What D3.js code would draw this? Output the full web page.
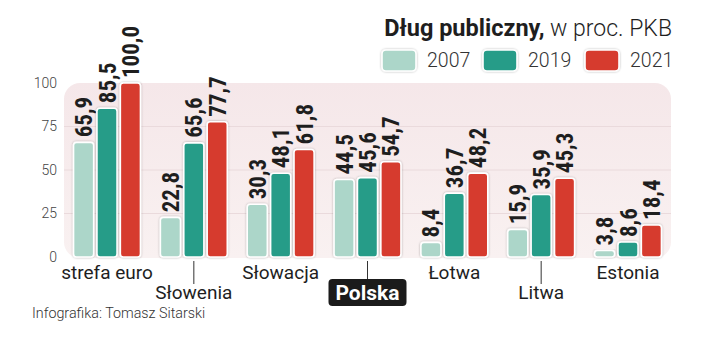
<!DOCTYPE html>
<html><head><meta charset="utf-8">
<script src="https://cdn.jsdelivr.net/npm/d3@7"></script>
<style>
body{margin:0;background:#fff;}
svg{display:block;}
</style></head>
<body><svg id="c" width="720" height="346"></svg>
<script>
const categories = ["strefa euro","Słowenia","Słowacja","Polska","Łotwa","Litwa","Estonia"];
const years = ["2007","2019","2021"];
const v2007 = [65.9,22.8,30.3,44.5,8.4,15.9,3.8];
const v2019 = [85.5,65.6,48.1,45.6,36.7,35.9,8.6];
const v2021 = [100.0,77.7,61.8,54.7,48.2,45.3,18.4];
const yTicks = [0,25,50,75,100];
const colors = ["#acd6c9","#279c88","#d63b2e"];
const title = "Dług publiczny,";
const subtitle = " w proc. PKB";
const credit = "Infografika: Tomasz Sitarski";
const highlight = "Polska";

const series = [v2007,v2019,v2021];
const svg = d3.select("#c");
const y = d3.scaleLinear().domain([0,100]).range([257,83]);
const x = d3.scalePoint().domain(categories).range([107,628]);
const xi = d3.scaleBand().domain(years).range([-35.1,35.1]).paddingInner(0.14).paddingOuter(0.07);

const defs = svg.append("defs");
const g = defs.append("linearGradient").attr("id","bg").attr("x1",0).attr("y1",0).attr("x2",0).attr("y2",1);
g.append("stop").attr("offset","0%").attr("stop-color","#f5e7e9");
g.append("stop").attr("offset","100%").attr("stop-color","#f9f1f1");
const sh = defs.append("filter").attr("id","sh").attr("x","-20%").attr("y","-20%").attr("width","140%").attr("height","140%");
sh.append("feDropShadow").attr("dx",0).attr("dy",0).attr("stdDeviation",0.8).attr("flood-color","#000").attr("flood-opacity",0.3);

// background panel
svg.append("rect").attr("x",64).attr("y",y(100)).attr("width",607).attr("height",y(0)-y(100)+1)
  .attr("rx",16).attr("fill","url(#bg)");

// grid
svg.append("g").selectAll("line").data(yTicks.filter(d=>d>0&&d<100)).join("line")
  .attr("x1",64).attr("x2",671).attr("y1",d=>y(d)).attr("y2",d=>y(d))
  .attr("stroke","#eadadc").attr("stroke-width",1);

// y axis labels
const yAxis = d3.axisLeft(y).tickValues(yTicks).tickSize(0).tickPadding(0).tickFormat(d3.format("d"));
const ya = svg.append("g").attr("transform","translate(57,0)").call(yAxis);
ya.select(".domain").remove();
ya.selectAll("text").attr("font-family","Roboto, sans-serif").attr("font-weight",300)
  .attr("font-size",14).attr("fill","#444");

// bars
const groups = svg.append("g").selectAll("g").data(categories).join("g")
  .attr("transform",d=>`translate(${x(d)},0)`);
groups.each(function(cat,ci){
  const gg = d3.select(this);
  years.forEach((yr,si)=>{
    const val = series[si][ci];
    gg.append("rect").attr("x",xi(yr)).attr("width",xi.bandwidth())
      .attr("y",y(val)).attr("height",Math.max(0,y(0)-y(val)))
      .attr("rx",3).attr("fill",colors[si]).attr("stroke","#fff").attr("stroke-width",1.6)
      .attr("filter","url(#sh)");
    gg.append("text")
      .attr("transform",`translate(${xi(yr)+xi.bandwidth()/2+8.5},${y(val)-5}) rotate(-90)`)
      .attr("font-family","'Liberation Sans Narrow','Roboto Condensed','DejaVu Sans Condensed',sans-serif")
      .attr("font-weight",700).attr("font-size",23).attr("fill","#1e1e1e")
      .text(d3.format(".1f")(val).replace(".",","));
  });
});

// x labels
const lab = svg.append("g").selectAll("g").data(categories).join("g")
  .attr("transform",d=>`translate(${x(d)},0)`);
lab.each(function(cat,i){
  const gg = d3.select(this);
  if(i%2===0){
    gg.append("text").attr("y",279).attr("text-anchor","middle")
      .attr("font-family","Roboto, sans-serif").attr("font-weight",400).attr("font-size",19)
      .attr("fill","#1e1e1e").text(cat);
  } else {
    const isH = cat===highlight;
    gg.append("line").attr("x1",0).attr("x2",0).attr("y1",261).attr("y2",isH?279:284)
      .attr("stroke","#333").attr("stroke-width",1);
    if(isH){
      gg.append("rect").attr("x",-39).attr("y",279).attr("width",78).attr("height",27)
        .attr("rx",4).attr("fill","#1b1b1b");
      gg.append("text").attr("y",300).attr("text-anchor","middle")
        .attr("font-family","Roboto, sans-serif").attr("font-weight",700).attr("font-size",21)
        .attr("fill","#fff").text(cat);
    } else {
      gg.append("text").attr("y",299).attr("text-anchor","middle")
        .attr("font-family","Roboto, sans-serif").attr("font-weight",400).attr("font-size",19)
        .attr("fill","#1e1e1e").text(cat);
    }
  }
});

// title
const t = svg.append("text").attr("x",672).attr("y",36).attr("text-anchor","end")
  .attr("font-family","Roboto, sans-serif").attr("fill","#1e1e1e");
t.append("tspan").attr("font-weight",700).attr("font-size",23.5).text(title);
t.append("tspan").attr("font-weight",300).attr("font-size",23).text(subtitle);

// legend
const legX = [382,483,585];
years.forEach((yr,i)=>{
  svg.append("rect").attr("x",legX[i]).attr("y",50).attr("width",34).attr("height",21)
    .attr("rx",4).attr("fill",colors[i]).attr("stroke","#fff").attr("stroke-width",1.6).attr("filter","url(#sh)");
  svg.append("text").attr("x",legX[i]+45).attr("y",67)
    .attr("font-family","Roboto, sans-serif").attr("font-weight",300).attr("font-size",19.5)
    .attr("fill","#333").text(yr);
});

// credit
svg.append("text").attr("x",32).attr("y",318).attr("font-family","Roboto, sans-serif")
  .attr("font-weight",300).attr("font-size",14.3).attr("fill","#333").text(credit);
</script></body></html>
